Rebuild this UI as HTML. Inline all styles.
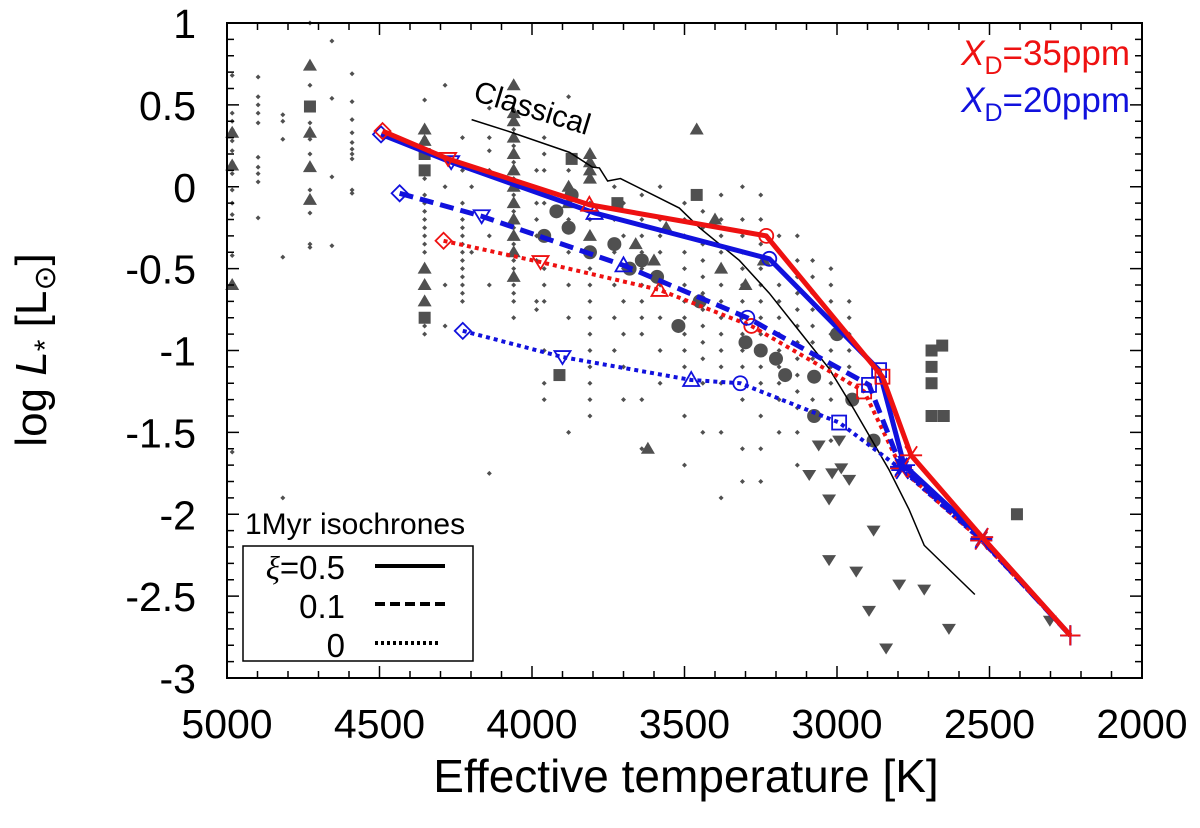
<!DOCTYPE html>
<html><head><meta charset="utf-8"><style>
html,body{margin:0;padding:0;background:#fff;}
svg{display:block;font-family:"Liberation Sans",sans-serif;}
</style></head><body>
<svg id="chart" width="1200" height="828" viewBox="0 0 1200 828">
<g id="scatter"></g>
<g id="classical"></g>
<g id="models"></g>
<g id="axes"></g>
<text x="472" y="100" transform="rotate(17 472 100)" font-size="30">Classical</text>
<g>
<text x="1130" y="65" text-anchor="end" font-size="35" fill="#ee1111"><tspan font-style="italic">X</tspan><tspan font-size="25" dy="9">D</tspan><tspan dy="-9">=35ppm</tspan></text>
<text x="1130" y="112" text-anchor="end" font-size="35" fill="#1111dd"><tspan font-style="italic">X</tspan><tspan font-size="25" dy="9">D</tspan><tspan dy="-9">=20ppm</tspan></text>
</g>
<g>
<text x="245" y="534" font-size="30">1Myr isochrones</text>
<rect x="243" y="546" width="230" height="115" fill="#fff" stroke="#000" stroke-width="1.5"/>
<text x="345" y="579" text-anchor="end" font-size="33"><tspan font-family="Liberation Serif" font-style="italic">ξ</tspan>=0.5</text>
<text x="345" y="618" text-anchor="end" font-size="33">0.1</text>
<text x="345" y="657" text-anchor="end" font-size="33">0</text>
<line x1="375" y1="566" x2="445" y2="566" stroke="#000" stroke-width="4"/>
<line x1="375" y1="604" x2="445" y2="604" stroke="#000" stroke-width="4" stroke-dasharray="10,5"/>
<line x1="375" y1="643" x2="440" y2="643" stroke="#000" stroke-width="4" stroke-dasharray="3,3"/>
</g>
<text x="686" y="792" text-anchor="middle" font-size="46">Effective temperature [K]</text>
<g transform="translate(46 350) rotate(-90)">
<text x="0" y="0" text-anchor="middle" font-size="44">log <tspan font-style="italic">L</tspan><tspan font-size="30" dy="9">*</tspan><tspan dy="-9"> [L</tspan><tspan font-size="30" dy="9">⊙</tspan><tspan dy="-9">]</tspan></text>
</g>
</svg>
<script>
// axes domain
var xTicks=[5000,4500,4000,3500,3000,2500,2000];
var yTicks=[1,0.5,0,-0.5,-1,-1.5,-2,-2.5,-3];
// observed small dots: columns of temperature with luminosity lists
var dotT=[4983,4898,4817,4728,4656,4590,4352,4285,4228,4198,4140,4060,3985,3960,3880,3810,3730,3700,3640,3580,3500,3440,3380,3310,3250,3190,3130,3080,3020,2960];
var dotL=[
[0.68,0.45,0.4,0.35,0.28,0.22,0.15,0.08,-0.02,-0.1,-0.17,-0.42,-1.62],
[0.67,0.55,0.5,0.45,0.39,0.18,0.12,0.08,0.03,-0.19],
[0.44,0.4,0.29,-0.43,-1.9],
[1.0,0.62,0.39,0.29,0.2,-0.02,-0.16,-0.35,-0.37],
[0.89,0.54,0.06,-0.36],
[0.69,0.52,0.41,0.33,0.27,0.23,0.2,0.17,-0.02,-0.04],
[0.53,0.3,0.05,-0.05,-0.1,-0.15,-0.2,-0.25,-0.3,-0.35,-0.4,-0.5,-0.7,-0.85,-0.9],
[0.62,0.0,-0.6,-0.85],
[0.3,0.1,-0.1,-0.2,-0.25,-0.3,-0.35,-0.4,-0.45,-0.5,-0.55,-0.6,-0.65,-0.7],
[0.0,-0.4],
[0.48,0.3,0.22,0.1,-0.3,-0.6,-1.75],
[0.35,0.25,0.15,0.1,0.05,0.0,-0.05,-0.1,-0.15,-0.2,-0.25,-0.3,-0.35,-0.4,-0.45,-0.5,-0.55,-0.6,-0.65,-0.7,-0.8],
[0.1,-0.1,-0.2,-0.3,-0.45,-0.7,-0.75],
[0.3,0.2,0.1,-0.1,-0.3,-0.5,-0.6,-0.7,-1.0,-1.2,-1.3],
[0.55,0.1,-0.2,-0.4,-0.6,-0.8,-1.5],
[0.05,-0.1,-0.2,-0.3,-0.4,-0.5,-0.6,-0.7,-0.8,-0.9,-1.0,-1.1,-1.2,-1.3,-1.4],
[0.0,-0.2,-0.4,-0.6,-0.8,-1.0],
[-0.1,-0.3,-0.5,-0.7,-0.9,-1.1,-1.3],
[-0.05,-0.2,-0.3,-0.4,-0.5,-0.6,-0.7,-0.8,-0.9,-1.3,-1.6],
[0.0,-0.2,-0.3,-0.4,-0.6,-0.8,-1.0,-1.2],
[-0.1,-0.2,-0.3,-0.4,-0.5,-0.6,-0.7,-0.8,-0.9,-1.0,-1.1,-1.4,-1.7],
[-0.15,-0.25,-0.35,-0.45,-0.55,-0.65,-0.75,-0.85,-0.95,-1.05,-1.2,-1.5],
[-0.05,-0.2,-0.3,-0.4,-0.5,-0.6,-0.7,-0.8,-0.9,-1.0,-1.1,-1.2,-1.5,-1.9],
[0.0,-0.2,-0.3,-0.4,-0.5,-0.6,-0.7,-0.8,-0.9,-1.0,-1.1,-1.3,-1.6,-1.8],
[-0.05,-0.2,-0.35,-0.5,-0.6,-0.7,-0.8,-0.9,-1.0,-1.1,-1.2,-1.4,-1.6,-1.8],
[-0.3,-0.4,-0.5,-0.6,-0.7,-0.8,-0.9,-1.0,-1.1,-1.2,-1.3,-1.5],
[-0.3,-0.45,-0.55,-0.65,-0.75,-0.85,-0.95,-1.05,-1.15,-1.25,-1.35,-1.5,-1.7],
[-0.45,-0.55,-0.65,-0.75,-0.85,-0.95,-1.05,-1.15,-1.3],
[-0.5,-0.6,-0.7,-0.8,-0.9,-1.0,-1.1,-1.2,-1.3,-1.55,-1.75],
[-0.7,-0.8,-0.9,-1.0,-1.1,-1.2]];
var triUpT=[4983,4983,4983,4728,4728,4728,4728,4352,4352,4352,4352,4352,4060,4060,4060,4060,4060,4060,4060,4060,4060,4060,4060,4060,3880,3880,3810,3810,3810,3810,3810,3600,3460,3380,3300,3620,3660,3560,3240,3400];
var triUpL=[0.33,0.13,-0.6,0.74,0.33,0.12,-0.08,0.35,0.28,-0.5,-0.6,-0.7,0.62,0.45,0.4,0.3,0.2,0.1,0.0,-0.1,-0.2,-0.3,-0.4,-0.55,0.0,-0.1,0.2,0.15,0.1,0.05,-0.3,-0.45,0.35,-0.5,-0.6,-1.6,-0.35,-0.25,-0.45,-0.2];
var circT=[3960,3880,3810,3730,3680,3640,3590,3450,3300,3250,3200,3170,3075,3075,3000,2950,2880,3870,3920,3520];
var circL=[-0.3,-0.25,-0.4,-0.35,-0.5,-0.45,-0.55,-0.7,-0.95,-1.0,-1.05,-1.15,-1.16,-1.4,-0.9,-1.3,-1.55,-0.05,-0.15,-0.85];
var sqT=[4728,4352,4352,4352,3870,3720,3460,3910,2690,2690,2690,2655,2690,2650,2410];
var sqL=[0.49,0.2,0.1,-0.8,0.17,-0.1,-0.05,-1.15,-1.0,-1.1,-1.2,-0.97,-1.4,-1.4,-2.0];
var triDnT=[3091,2993,3026,2960,3026,2937,2895,2796,2839,2633,2714,2302,3016,2986,3060,2880];
var triDnL=[-1.76,-1.55,-1.91,-1.79,-2.28,-2.35,-2.59,-2.43,-2.82,-2.70,-2.46,-2.65,-1.75,-1.72,-1.58,-2.1];
// classical isochrone
var clsT=[4198,4080,3877,3802,3779,3752,3710,3517,3451,3320,3222,3124,3026,2944,2829,2764,2714,2548];
var clsL=[0.41,0.34,0.21,0.12,0.115,0.035,0.05,-0.13,-0.25,-0.45,-0.65,-0.88,-1.11,-1.36,-1.73,-1.97,-2.19,-2.49];
// model isochrones
var redSolidT=[4490,4275,3812,3232,2851,2757,2524,2235];
var redSolidL=[0.34,0.17,-0.11,-0.30,-1.16,-1.64,-2.14,-2.74];
var blueSolidT=[4495,4265,3795,3222,2862,2780,2525,2235];
var blueSolidL=[0.32,0.15,-0.16,-0.44,-1.12,-1.70,-2.14,-2.74];
var blueDashT=[4434,4165,3700,3294,2895,2790,2527,2235];
var blueDashL=[-0.04,-0.18,-0.48,-0.80,-1.21,-1.71,-2.15,-2.74];
var redDotT=[4290,3972,3582,3281,2911,2790,2527,2235];
var redDotL=[-0.33,-0.46,-0.63,-0.85,-1.25,-1.72,-2.16,-2.74];
var blueDotT=[4227,3900,3478,3317,2993,2786,2527,2235];
var blueDotL=[-0.88,-1.04,-1.18,-1.20,-1.44,-1.73,-2.16,-2.74];

var X0=227,X1=1142,Y0=23,Y1=678;
function sx(t){return X0+(5000-t)/3000*(X1-X0);}
function sy(l){return Y0+(1-l)/4*(Y1-Y0);}
var NS="http://www.w3.org/2000/svg";
function mk(tag,attrs,parent){var e=document.createElementNS(NS,tag);for(var k in attrs)e.setAttribute(k,attrs[k]);parent.appendChild(e);return e;}
var GR="#505050";
var sc=document.getElementById('scatter');
dotT.forEach(function(t,i){dotL[i].forEach(function(l){
 var x=sx(t),y=sy(l);
 var e=mk('path',{d:'M'+x+' '+(y-2.5)+'L'+(x+2.5)+' '+y+'L'+x+' '+(y+2.5)+'L'+(x-2.5)+' '+y+'Z',fill:GR},sc);
 
 
});});
triUpT.forEach(function(t,i){var x=sx(t),y=sy(triUpL[i]);
 var e=mk('path',{d:'M'+x+' '+(y-7)+'L'+(x+7)+' '+(y+5)+'L'+(x-7)+' '+(y+5)+'Z',fill:GR},sc);
 
 });
triDnT.forEach(function(t,i){var x=sx(t),y=sy(triDnL[i]);
 var e=mk('path',{d:'M'+x+' '+(y+6)+'L'+(x+7)+' '+(y-5)+'L'+(x-7)+' '+(y-5)+'Z',fill:GR},sc);
 
 });
circT.forEach(function(t,i){
 var e=mk('circle',{cx:sx(t),cy:sy(circL[i]),r:7,fill:GR},sc);
 
 });
sqT.forEach(function(t,i){
 var e=mk('rect',{x:sx(t)-6,y:sy(sqL[i])-6,width:12,height:12,fill:GR},sc);
 
 });

var cl=document.getElementById('classical');
var cp=clsT.map(function(t,i){return sx(t)+','+sy(clsL[i]);}).join(' ');
var ce=mk('polyline',{points:cp,fill:'none',stroke:'#000','stroke-width':1.5},cl);



var md=document.getElementById('models');
function marker(i,x,y,col,g,sw){
 var s=8,e;
 if(i==0)e=mk('path',{d:'M'+x+' '+(y-s)+'L'+(x+s)+' '+y+'L'+x+' '+(y+s)+'L'+(x-s)+' '+y+'Z'},g);
 else if(i==1)e=mk('path',{d:'M'+x+' '+(y+7)+'L'+(x+8)+' '+(y-6)+'L'+(x-8)+' '+(y-6)+'Z'},g);
 else if(i==2)e=mk('path',{d:'M'+x+' '+(y-8)+'L'+(x+8)+' '+(y+6)+'L'+(x-8)+' '+(y+6)+'Z'},g);
 else if(i==3)e=mk('circle',{cx:x,cy:y,r:7},g);
 else if(i==4)e=mk('rect',{x:x-7,y:y-7,width:14,height:14},g);
 else if(i==7)e=mk('path',{d:'M'+(x-10)+' '+y+'L'+(x+10)+' '+y+'M'+x+' '+(y-10)+'L'+x+' '+(y+10)},g);
 else e=mk('path',{d:'M'+(x-11)+' '+y+'L'+(x+11)+' '+y+'M'+(x-6)+' '+(y-9)+'L'+(x+6)+' '+(y+9)+'M'+(x+6)+' '+(y-9)+'L'+(x-6)+' '+(y+9)},g);
 e.setAttribute('fill','none');e.setAttribute('stroke',col);e.setAttribute('stroke-width',sw);
 
 
}
function series(T,L,col,dash,w,name){
 var g=mk('g',{},md);
 
 
 var p=T.map(function(t,i){return sx(t)+','+sy(L[i]);}).join(' ');
 var a={points:p,fill:'none',stroke:col,'stroke-width':w,'stroke-linejoin':'round'};
 if(dash)a['stroke-dasharray']=dash;
 var ln=mk('polyline',a,g);
 
 
 T.forEach(function(t,i){marker(i,sx(t),sy(L[i]),col,g,1.8);});
}
var RED="#ee1111",BLUE="#1111dd";
series(blueDotT,blueDotL,BLUE,'4,4',4,'blue-xi0');
series(redDotT,redDotL,RED,'4,4',4,'red-xi0');
series(blueDashT,blueDashL,BLUE,'14,7',5,'blue-xi01');
series(blueSolidT,blueSolidL,BLUE,null,5,'blue-xi05');
series(redSolidT,redSolidL,RED,null,5,'red-xi05');

var ax=document.getElementById('axes');
var fr=mk('rect',{x:X0,y:Y0,width:X1-X0,height:Y1-Y0,fill:'none',stroke:'#000','stroke-width':2},ax);


for(var t=5000;t>=2000;t-=100){var x=sx(t),big=(t%500==0)?12:7;
 mk('line',{x1:x,y1:Y1,x2:x,y2:Y1-big,stroke:'#000','stroke-width':1.5},ax);
 mk('line',{x1:x,y1:Y0,x2:x,y2:Y0+big,stroke:'#000','stroke-width':1.5},ax);}
for(var k=0;k<=40;k++){var l=1-k*0.1,y=sy(l),big=(k%5==0)?12:7;
 mk('line',{x1:X0,y1:y,x2:X0+big,y2:y,stroke:'#000','stroke-width':1.5},ax);
 mk('line',{x1:X1,y1:y,x2:X1-big,y2:y,stroke:'#000','stroke-width':1.5},ax);}
xTicks.forEach(function(t){
 var e=mk('text',{x:sx(t),y:Y1+60,'text-anchor':'middle','font-size':41},ax);e.textContent=t;
 
 });
yTicks.forEach(function(l){
 var e=mk('text',{x:196,y:sy(l)+15,'text-anchor':'end','font-size':41},ax);e.textContent=l;
 
 });
</script>
</body></html>
